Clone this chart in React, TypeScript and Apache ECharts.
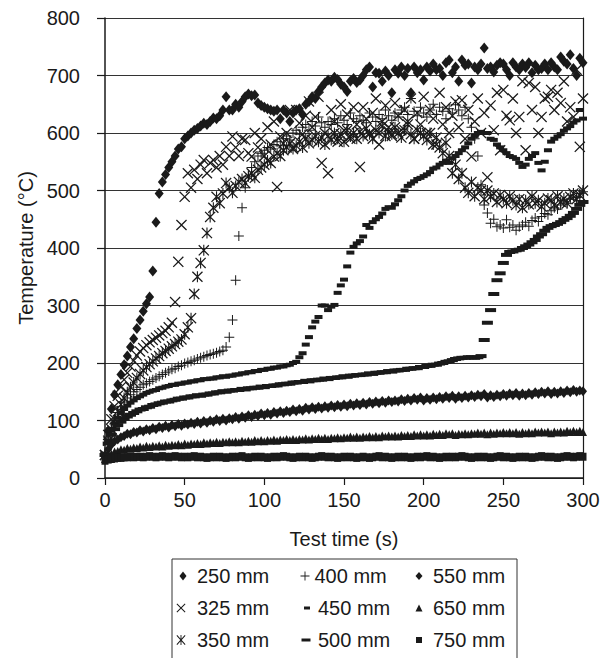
import React, { useEffect, useRef } from "react";
import * as echarts from "echarts";

// Sampling instants (s)
const TIME_S = [
  0, 2, 4, 6, 8, 10, 12, 14, 16, 18,
  20, 22, 24, 26, 28, 30, 32, 34, 36, 38,
  40, 42, 44, 46, 48, 50, 52, 54, 56, 58,
  60, 62, 64, 66, 68, 70, 72, 74, 76, 78,
  80, 82, 84, 86, 88, 90, 92, 94, 96, 98,
  100, 102, 104, 106, 108, 110, 112, 114, 116, 118,
  120, 122, 124, 126, 128, 130, 132, 134, 136, 138,
  140, 142, 144, 146, 148, 150, 152, 154, 156, 158,
  160, 162, 164, 166, 168, 170, 172, 174, 176, 178,
  180, 182, 184, 186, 188, 190, 192, 194, 196, 198,
  200, 202, 204, 206, 208, 210, 212, 214, 216, 218,
  220, 222, 224, 226, 228, 230, 232, 234, 236, 238,
  240, 242, 244, 246, 248, 250, 252, 254, 256, 258,
  260, 262, 264, 266, 268, 270, 272, 274, 276, 278,
  280, 282, 284, 286, 288, 290, 292, 294, 296, 298,
  300,
];

// Temperatures (°C), one per sampling instant
const T250 = [
  38, 82, 120, 145, 162, 180, 197, 212, 228, 242,
  260, 275, 290, 303, 315, 360, 445, 495, 515, 528,
  540, 550, 560, 572, 576, 590, 595, 600, 605, 608,
  612, 617, 615, 620, 626, 625, 630, 640, 663, 640,
  640, 650, 645, 655, 663, 668, 665, 666, 652, 648,
  645, 642, 640, 638, 640, 625, 640, 635, 620, 635,
  640, 642, 632, 650, 655, 663, 660, 672, 680, 687,
  692, 690, 697, 693, 685, 680, 672, 690, 695, 688,
  692, 700, 710, 715, 680, 705, 704, 690, 708, 700,
  670, 710, 704, 715, 700, 712, 670, 715, 705, 710,
  692, 715, 708, 720, 710, 712, 700, 722, 727, 705,
  715, 690, 727, 718, 720, 687, 715, 710, 720, 748,
  712, 715, 706, 718, 722, 720, 710, 700, 722, 715,
  710, 720, 714, 722, 705, 718, 710, 712, 720, 710,
  722, 715, 710, 732, 725, 720, 736, 712, 700, 730,
  722,
];

const T325 = [
  40, 75, 102, 125, 143, 158, 171, 183, 194, 204,
  213, 220, 226, 231, 236, 240, 244, 248, 252, 256,
  262, 270, 306, 376, 440, 489, 530, 505, 536, 520,
  545, 553, 530, 548, 553, 540, 560, 545, 576, 560,
  594, 575, 560, 590, 588, 565, 559, 600, 575, 590,
  560, 610, 580, 620, 506, 594, 582, 600, 640, 575,
  640, 617, 598, 630, 655, 610, 628, 663, 548, 600,
  530, 640, 620, 585, 650, 605, 632, 590, 645, 615,
  541, 645, 625, 600, 635, 660, 580, 620, 648, 610,
  595, 652, 630, 605, 640, 620, 660, 590, 635, 615,
  663, 600, 640, 625, 580, 670, 615, 645, 600, 630,
  655, 610, 657, 590, 640, 559, 620, 660, 600, 635,
  523, 648, 605, 670, 570, 675, 630, 622, 660, 600,
  628, 690, 570, 687, 640, 680, 600, 628, 660, 663,
  675, 640, 670, 652, 690, 620, 645, 628, 710, 576,
  660,
];

const T350 = [
  40, 65, 85, 102, 116, 128, 139, 149, 158, 166,
  174, 181, 187, 193, 198, 203, 208, 212, 217, 221,
  225, 229, 233, 237, 241, 250, 262, 278, 320, 350,
  374, 396, 426, 454, 470, 489, 478, 495, 513, 505,
  496, 508, 515, 520, 513, 525, 530, 522, 536, 540,
  545, 552, 548, 559, 565, 560, 570, 575, 582, 572,
  578, 585, 575, 590, 582, 588, 595, 585, 592, 580,
  595, 588, 600, 590, 598, 585, 605, 594, 600, 590,
  602, 595, 608, 598, 590, 605, 600, 612, 595, 603,
  598, 610, 600, 592, 605, 615, 598, 590, 605, 600,
  595, 588, 600, 580, 592, 575, 565, 583, 560, 530,
  545, 520, 530, 505, 496, 515, 490, 505, 500, 485,
  500, 489, 495, 480, 492, 485, 478, 490, 483, 475,
  485, 470, 483, 476, 490, 478, 483, 472, 478, 486,
  483, 475, 490, 480, 486, 478, 489, 495, 485, 492,
  500,
];

const T400 = [
  45, 70, 88, 102, 114, 124, 132, 139, 145, 150,
  154, 158, 162, 165, 168, 171, 174, 177, 180, 183,
  186, 189, 191, 194, 196, 199, 201, 203, 205, 207,
  209, 211, 213, 215, 216, 218, 220, 222, 228, 245,
  275, 344, 421, 470, 505, 525, 540, 550, 560, 565,
  570, 575, 572, 580, 585, 578, 590, 595, 588, 600,
  605, 598, 610, 615, 605, 620, 612, 628, 618, 610,
  620, 615, 625, 618, 630, 622, 615, 635, 625, 620,
  630, 622, 618, 635, 628, 620, 632, 625, 640, 630,
  622, 635, 628, 640, 645, 632, 660, 638, 630, 645,
  635, 628, 640, 650, 632, 645, 638, 625, 642, 635,
  649, 640, 630, 645, 625, 610, 590, 560, 510, 475,
  461, 443, 450, 437, 440, 435, 449, 436, 440, 431,
  437, 440, 445, 438, 448, 452, 446, 455, 460, 458,
  465, 470, 468, 475, 480, 478, 485, 490, 488, 495,
  498,
];

const T450 = [
  42, 65, 82, 95, 105, 113, 120, 126, 131, 135,
  139, 142, 145, 148, 150, 152, 153, 156, 157, 159,
  160, 162, 162, 164, 164, 166, 166, 168, 168, 170,
  170, 172, 172, 173, 173, 175, 175, 177, 176, 178,
  178, 180, 180, 182, 182, 184, 184, 186, 186, 188,
  188, 190, 190, 192, 192, 194, 194, 196, 197, 200,
  202, 210, 217, 232, 245, 262, 272, 280, 300, 300,
  292, 298, 301, 322, 335, 345, 368, 392, 402, 408,
  412, 420, 440, 435, 445, 450, 454, 460, 468, 471,
  470, 476, 483, 490, 500, 508, 512, 516, 520, 522,
  525, 528, 532, 538, 540, 545, 548, 552, 548, 556,
  560, 565, 570, 575, 582, 590, 595, 600, 602, 600,
  600, 590, 588, 580, 575, 570, 565, 560, 558, 555,
  548, 541, 545, 555, 560, 565, 548, 535, 550, 570,
  585, 590, 594, 598, 604, 608, 612, 618, 622, 640,
  625,
];

const T500 = [
  40, 60, 75, 85, 92, 98, 103, 107, 110, 113,
  116, 119, 120, 123, 124, 127, 128, 130, 131, 133,
  133, 135, 136, 138, 138, 140, 140, 142, 142, 144,
  143, 145, 145, 147, 147, 149, 149, 151, 150, 152,
  152, 153, 153, 155, 154, 156, 156, 157, 157, 159,
  158, 160, 160, 161, 161, 163, 163, 164, 164, 166,
  166, 167, 167, 169, 168, 170, 170, 171, 171, 173,
  172, 174, 174, 175, 175, 177, 176, 178, 178, 179,
  179, 180, 180, 182, 181, 183, 183, 184, 184, 186,
  185, 187, 187, 188, 188, 190, 190, 191, 191, 193,
  193, 195, 195, 197, 197, 199, 200, 202, 203, 205,
  207, 208, 209, 209, 210, 210, 209, 210, 212, 240,
  270, 292, 320, 344, 356, 374, 388, 393, 394, 396,
  397, 400, 403, 406, 410, 414, 420, 424, 430, 435,
  438, 440, 442, 445, 449, 452, 456, 461, 468, 475,
  480,
];

const T550 = [
  36, 50, 58, 64, 67, 71, 73, 77, 76, 80,
  79, 83, 81, 85, 83, 87, 85, 89, 87, 91,
  88, 92, 90, 94, 91, 95, 93, 96, 94, 98,
  95, 99, 96, 100, 98, 102, 99, 103, 100, 104,
  102, 106, 103, 107, 105, 109, 106, 110, 108, 112,
  109, 113, 110, 115, 112, 116, 113, 117, 115, 119,
  116, 120, 117, 122, 119, 123, 120, 124, 121, 125,
  122, 126, 123, 127, 124, 128, 125, 129, 126, 130,
  127, 131, 128, 132, 129, 133, 130, 134, 131, 135,
  132, 135, 133, 137, 134, 138, 135, 139, 136, 140,
  135, 139, 136, 140, 137, 141, 138, 142, 139, 143,
  138, 142, 139, 143, 140, 144, 141, 145, 142, 146,
  140, 144, 141, 145, 142, 146, 143, 147, 144, 148,
  143, 147, 144, 148, 145, 149, 146, 150, 147, 151,
  146, 150, 147, 151, 148, 152, 149, 153, 150, 152,
  151,
];

const T650 = [
  33, 39, 42, 46, 47, 50, 49, 52, 51, 53,
  52, 55, 53, 56, 54, 56, 55, 57, 55, 58,
  56, 58, 57, 59, 57, 60, 58, 60, 59, 61,
  59, 62, 60, 62, 61, 63, 61, 63, 62, 64,
  62, 64, 62, 65, 63, 65, 63, 66, 64, 66,
  64, 66, 65, 67, 65, 67, 66, 68, 66, 68,
  66, 68, 67, 69, 67, 69, 68, 70, 68, 70,
  68, 70, 69, 71, 69, 71, 70, 72, 70, 72,
  70, 72, 71, 73, 71, 73, 71, 74, 72, 74,
  72, 74, 72, 75, 73, 75, 73, 76, 74, 76,
  74, 76, 74, 77, 75, 77, 75, 78, 76, 78,
  75, 77, 76, 78, 76, 78, 77, 79, 77, 79,
  76, 79, 77, 79, 78, 80, 78, 80, 78, 80,
  77, 80, 78, 80, 78, 81, 79, 81, 79, 81,
  78, 81, 79, 81, 79, 82, 80, 82, 80, 82,
  80,
];

const T750 = [
  30, 32, 33, 34, 35, 35, 36, 36, 37, 36,
  37, 37, 36, 37, 38, 37, 36, 37, 38, 37,
  36, 37, 38, 37, 36, 37, 36, 37, 38, 36,
  37, 36, 35, 36, 37, 36, 37, 36, 35, 36,
  37, 36, 37, 38, 36, 35, 36, 37, 36, 37,
  36, 35, 36, 37, 36, 37, 38, 37, 36, 35,
  36, 37, 36, 37, 36, 35, 36, 37, 38, 37,
  36, 37, 36, 35, 36, 37, 36, 37, 36, 35,
  36, 37, 36, 35, 36, 37, 38, 36, 37, 36,
  35, 36, 37, 36, 37, 36, 35, 36, 37, 36,
  37, 38, 36, 37, 36, 35, 36, 37, 36, 37,
  36, 37, 38, 37, 36, 35, 36, 37, 36, 37,
  36, 35, 36, 37, 38, 36, 37, 36, 35, 36,
  37, 36, 37, 36, 35, 36, 37, 38, 37, 36,
  37, 36, 35, 36, 37, 38, 37, 36, 37, 38,
  37,
];

const SERIES_NAMES = ["250 mm", "325 mm", "350 mm", "400 mm", "450 mm", "500 mm", "550 mm", "650 mm", "750 mm"];
const SERIES_VALUES = [T250, T325, T350, T400, T450, T500, T550, T650, T750];

const FONT = "'Liberation Sans', Arial, Helvetica, sans-serif";
const INK = "#1a1a1a";

const X_SHAPE = "M0 8L8 0L50 42L92 0L100 8L58 50L100 92L92 100L50 58L8 100L0 92L42 50Z";
const SYM_CROSS = "path://" + X_SHAPE;
const SYM_STAR = "path://" + X_SHAPE + "M45 0L55 0L55 100L45 100Z";
const SYM_PLUS = "path://M45 0L55 0L55 45L100 45L100 55L55 55L55 100L45 100L45 55L0 55L0 45L45 45Z";

const MARKERS: { symbol: string; size: number[] }[] = [
  { symbol: "diamond", size: [9, 11] },
  { symbol: SYM_CROSS, size: [11, 11] },
  { symbol: SYM_STAR, size: [11, 11] },
  { symbol: SYM_PLUS, size: [10, 10] },
  { symbol: "rect", size: [8, 4] },
  { symbol: "rect", size: [11, 4] },
  { symbol: "diamond", size: [8, 10] },
  { symbol: "triangle", size: [8, 8] },
  { symbol: "rect", size: [7, 8] },
];

const LEGEND_MARKER_SIZE = [[7, 9], [9, 9], [9, 10], [9, 9], [6, 3], [9, 3], [7, 8], [7, 7], [6, 6]];

// legend placement: icon centre and text start
const LEGEND_POS = [
  { cx: 183, cy: 576, tx: 197 },
  { cx: 181, cy: 608, tx: 197 },
  { cx: 181, cy: 640, tx: 197 },
  { cx: 305, cy: 576, tx: 313 },
  { cx: 307, cy: 608, tx: 318 },
  { cx: 306, cy: 640, tx: 318 },
  { cx: 419, cy: 576, tx: 433 },
  { cx: 419, cy: 608, tx: 433 },
  { cx: 419, cy: 640, tx: 433 },
];

export default function App() {
  const ref = useRef<HTMLDivElement>(null);

  useEffect(() => {
    document.body.style.margin = "0";
    if (!ref.current) return;
    const chart = echarts.init(ref.current, undefined, { renderer: "svg" });

    const series = SERIES_NAMES.map((name, i) => ({
      name,
      type: "scatter",
      data: SERIES_VALUES[i].map((v, k) => [TIME_S[k], v]),
      symbol: MARKERS[i].symbol,
      symbolSize: MARKERS[i].size,
      itemStyle: { color: INK, opacity: 1 },
      emphasis: { disabled: true },
      xAxisIndex: 0,
      yAxisIndex: 0,
    }));

    const legends = SERIES_NAMES.map((name, i) => {
      const p = LEGEND_POS[i];
      const [w, h] = LEGEND_MARKER_SIZE[i];
      const left = p.cx - w / 2;
      return {
        show: true,
        data: [{ name, icon: MARKERS[i].symbol }],
        left,
        top: p.cy - 10,
        padding: 0,
        itemWidth: w,
        itemHeight: h,
        selectedMode: false,
        symbolKeepAspect: false,
        itemStyle: { color: INK, opacity: 1 },
        textStyle: {
          fontSize: 20,
          color: INK,
          fontFamily: FONT,
          padding: [0, 0, 0, Math.max(0, p.tx - left - w - 5)],
        },
      };
    });

    const axisText = { fontSize: 20, color: INK, fontFamily: FONT };

    chart.setOption({
      animation: false,
      textStyle: { fontFamily: FONT },
      grid: { left: 105, right: 27, top: 18, bottom: 180 },
      xAxis: {
        type: "value",
        min: 0,
        max: 300,
        interval: 50,
        name: "Test time (s)",
        nameLocation: "middle",
        nameGap: 51,
        nameTextStyle: axisText,
        axisLine: { show: true, lineStyle: { color: INK, width: 1.5 } },
        axisTick: { show: true, length: 7, lineStyle: { color: INK, width: 1.2 } },
        axisLabel: { ...axisText, margin: 12 },
        splitLine: { show: false },
      },
      yAxis: [
        {
          type: "value",
          min: 0,
          max: 800,
          interval: 100,
          name: "Temperature (°C)",
          nameLocation: "middle",
          nameGap: 69,
          nameTextStyle: axisText,
          axisLine: { show: true, lineStyle: { color: INK, width: 1.5 } },
          axisTick: { show: true, length: 8, lineStyle: { color: INK, width: 1.2 } },
          axisLabel: { ...axisText, margin: 25 },
          splitLine: { show: true, lineStyle: { color: "#333", width: 1 } },
        },
        {
          type: "value",
          position: "right",
          min: 0,
          max: 800,
          interval: 100,
          axisLine: { show: true, lineStyle: { color: INK, width: 1.2 } },
          axisTick: { show: false },
          axisLabel: { show: false },
          splitLine: { show: false },
        },
      ],
      legend: legends,
      graphic: [
        {
          type: "rect",
          silent: true,
          shape: { x: 172, y: 559, width: 345, height: 110 },
          style: { fill: "none", stroke: "#333", lineWidth: 1 },
        },
      ],
      series,
    });

    return () => chart.dispose();
  }, []);

  return <div ref={ref} style={{ width: 610, height: 658 }} />;
}
